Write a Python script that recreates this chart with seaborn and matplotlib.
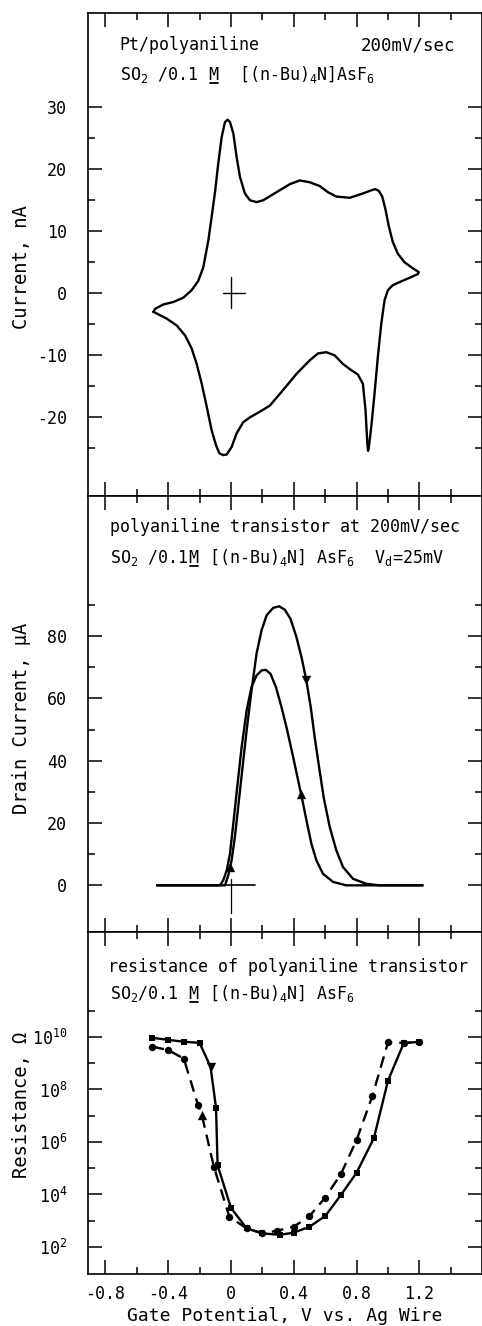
import numpy as np
import pandas as pd
import seaborn as sns
import matplotlib
matplotlib.use("Agg")
import matplotlib.pyplot as plt
from matplotlib.ticker import FixedLocator, NullFormatter, FixedFormatter

# --------------
# values

# top: cyclic voltammogram, Pt/polyaniline (V, nA), one closed loop
cv_potential = [-0.493, -0.483, -0.43, -0.366, -0.303, -0.25, -0.208, -0.176, -0.144, -0.123,
                -0.10, -0.081, -0.059, -0.038, -0.021, -0.006, 0.015, 0.036, 0.057, 0.089,
                0.121, 0.163, 0.205, 0.29, 0.375, 0.438, 0.502, 0.565, 0.618, 0.671,
                0.756, 0.84, 0.893, 0.919, 0.942, 0.963, 0.984, 1.005, 1.03, 1.062,
                1.105, 1.154, 1.196,
                1.19, 1.137, 1.073, 1.03, 0.999, 0.978, 0.957, 0.935, 0.914, 0.893,
                0.878, 0.873, 0.868, 0.857, 0.84, 0.808, 0.766, 0.713, 0.66, 0.607,
                0.554, 0.502, 0.417, 0.332, 0.248, 0.184, 0.121, 0.078, 0.036, 0.004,
                -0.027, -0.049, -0.074, -0.095, -0.123, -0.154, -0.186, -0.218, -0.25, -0.292,
                -0.345, -0.408, -0.462, -0.493]
cv_current = [-3.0, -2.5, -1.8, -1.4, -0.7, 0.5, 2.0, 4.2, 8.5, 12.3,
              16.6, 20.9, 25.2, 27.6, 28.0, 27.6, 25.8, 22.0, 18.8, 16.1,
              15.0, 14.7, 15.0, 16.3, 17.6, 18.2, 17.9, 17.3, 16.3, 15.6,
              15.4, 16.1, 16.6, 16.8, 16.5, 15.6, 13.5, 10.8, 8.3, 6.4,
              5.0, 4.1, 3.4,
              3.1, 2.5, 1.8, 1.3, 0.5, -1.1, -4.9, -10.3, -16.2, -21.6,
              -24.8, -25.4, -24.2, -18.9, -14.6, -13.1, -12.4, -11.4, -10.0, -9.5,
              -9.7, -10.8, -13.0, -15.6, -18.1, -19.1, -20.0, -20.8, -22.6, -24.8,
              -26.0, -26.1, -25.8, -24.5, -22.1, -18.3, -14.6, -11.4, -8.9, -6.8,
              -5.2, -4.1, -3.4, -3.0]
cross_h_v = [-0.05, 0.09]
cross_h_i = [0.0, 0.0]
cross_v_v = [0.0, 0.0]
cross_v_i = [-2.4, 2.6]

# middle: drain current (V, uA)
fwd_potential = [-0.47, -0.038, -0.017, 0.004, 0.025, 0.046, 0.074, 0.10, 0.131, 0.163,
                 0.195, 0.227, 0.269, 0.307, 0.343, 0.379, 0.417, 0.449, 0.48, 0.508,
                 0.533, 0.561, 0.59, 0.629, 0.671, 0.713, 0.777, 0.861, 0.946, 1.22]
fwd_current = [0.0, 0.0, 3.2, 8.0, 15.5, 25.1, 38.0, 49.8, 62.6, 74.4,
               81.9, 86.7, 89.1, 89.6, 88.5, 85.6, 79.7, 73.3, 65.8, 57.2,
               47.6, 38.0, 28.3, 18.7, 11.2, 5.9, 2.1, 0.5, 0.0, 0.0]
rev_potential = [1.22, 0.734, 0.65, 0.586, 0.544, 0.512, 0.485, 0.459, 0.432, 0.396,
                 0.358, 0.322, 0.286, 0.252, 0.222, 0.195, 0.163, 0.131, 0.10, 0.068,
                 0.04, 0.015, -0.006, -0.027, -0.049, -0.07, -0.47]
rev_current = [0.0, 0.0, 1.1, 3.7, 8.0, 13.4, 19.8, 26.3, 32.7, 41.2,
               49.8, 57.2, 63.7, 67.9, 69.2, 69.0, 67.4, 63.7, 56.2, 44.4,
               31.6, 19.8, 10.2, 4.8, 1.6, 0.0, 0.0]
zero_line_v = [-0.47, 0.15]
zero_line_i = [0.0, 0.0]
zero_tick_v = [0.0, 0.0]
zero_tick_i = [-9.0, 2.0]
mid_arrow_dn_v = [0.48]
mid_arrow_dn_i = [65.8]
mid_arrow_up_v = [0.449, -0.006]
mid_arrow_up_i = [29.4, 5.9]

# bottom: resistance (V, ohm)
solid_v = [-0.50, -0.40, -0.30, -0.20, -0.13, -0.095, -0.085, 0.0, 0.10, 0.20,
           0.31, 0.40, 0.50, 0.60, 0.70, 0.80, 0.91, 1.00, 1.10, 1.20]
solid_r = [9.3e9, 7.8e9, 6.6e9, 6.0e9, 7.4e8, 2.0e7, 1.3e5, 3.1e3, 5.1e2, 3.3e2,
           2.9e2, 3.5e2, 5.9e2, 1.5e3, 9.5e3, 6.8e4, 1.4e6, 2.2e8, 5.8e9, 6.6e9]
dash_v = [-0.50, -0.40, -0.30, -0.21, -0.186, -0.108, -0.01, 0.10, 0.20, 0.29,
          0.40, 0.50, 0.60, 0.70, 0.80, 0.90, 1.00, 1.10, 1.20]
dash_r = [4.3e9, 3.2e9, 1.5e9, 2.6e7, 1.1e7, 1.1e5, 1.4e3, 5.1e2, 3.3e2, 4.1e2,
          5.9e2, 1.5e3, 7.6e3, 6.0e4, 1.2e6, 5.6e7, 6.3e9, 6.0e9, 6.6e9]
res_arrow_dn_v = [-0.13]
res_arrow_dn_r = [7.4e8]
res_arrow_up_v = [-0.186]
res_arrow_up_r = [1.1e7]

x_major = [-0.8, -0.4, 0.0, 0.4, 0.8, 1.2]
x_minor = [-0.6, -0.2, 0.2, 0.6, 1.0, 1.4]
x_labels = ["-0.8", "-0.4", "0", "0.4", "0.8", "1.2"]

# --------------
sns.set_style("ticks")
plt.rcParams['font.family'] = ['DejaVu Sans Mono', 'DejaVu Sans']
plt.rcParams['mathtext.default'] = 'regular'
plt.rcParams['axes.unicode_minus'] = False
for k in ['text.color', 'axes.labelcolor', 'xtick.color', 'ytick.color', 'axes.edgecolor']:
    plt.rcParams[k] = 'black'
plt.rcParams['axes.linewidth'] = 1.2

fig = plt.figure(figsize=(4.82, 13.26), dpi=100)
L = 88 / 482
W = 393.5 / 482
ax1 = fig.add_axes([L, 0.6259, W, 0.3643])
ax2 = fig.add_axes([L, 0.2971, W, 0.3288])
ax3 = fig.add_axes([L, 0.0392, W, 0.2579])

lw = 1.7

# top panel
cv = pd.DataFrame({'V': cv_potential, 'I': cv_current})
sns.lineplot(data=cv, x='V', y='I', sort=False, estimator=None, color='black', lw=lw, ax=ax1)
ax1.plot(cross_h_v, cross_h_i, color='black', lw=1.0)
ax1.plot(cross_v_v, cross_v_i, color='black', lw=1.0)
ax1.set_ylim(-32.7, 45.2)
ax1.yaxis.set_major_locator(FixedLocator([-20, -10, 0, 10, 20, 30]))
ax1.yaxis.set_minor_locator(FixedLocator([-25, -15, -5, 5, 15, 25]))

# middle panel
fwd = pd.DataFrame({'V': fwd_potential, 'I': fwd_current})
rev = pd.DataFrame({'V': rev_potential, 'I': rev_current})
sns.lineplot(data=fwd, x='V', y='I', sort=False, estimator=None, color='black', lw=lw, ax=ax2)
sns.lineplot(data=rev, x='V', y='I', sort=False, estimator=None, color='black', lw=lw, ax=ax2)
ax2.plot(zero_line_v, zero_line_i, color='black', lw=1.2)
ax2.plot(zero_tick_v, zero_tick_i, color='black', lw=0.9)
sns.scatterplot(x=mid_arrow_dn_v, y=mid_arrow_dn_i, marker='v', s=45, color='black', linewidth=0, ax=ax2)
sns.scatterplot(x=mid_arrow_up_v, y=mid_arrow_up_i, marker='^', s=45, color='black', linewidth=0, ax=ax2)
ax2.set_ylim(-15, 125)
ax2.yaxis.set_major_locator(FixedLocator([0, 20, 40, 60, 80]))
ax2.yaxis.set_minor_locator(FixedLocator([10, 30, 50, 70, 90]))

# bottom panel
sol = pd.DataFrame({'V': solid_v, 'R': solid_r})
das = pd.DataFrame({'V': dash_v, 'R': dash_r})
sns.lineplot(data=sol, x='V', y='R', sort=False, estimator=None, color='black', lw=lw, ax=ax3)
sns.lineplot(data=das, x='V', y='R', sort=False, estimator=None, color='black', lw=lw,
             linestyle=(0, (5, 3)), ax=ax3)
sq = sol[~sol.V.isin(res_arrow_dn_v)]
ci = das[~das.V.isin(res_arrow_up_v)]
sns.scatterplot(data=sq, x='V', y='R', marker='s', s=24, color='black', linewidth=0, ax=ax3)
sns.scatterplot(data=ci, x='V', y='R', marker='o', s=28, color='black', linewidth=0, ax=ax3)
sns.scatterplot(x=res_arrow_dn_v, y=res_arrow_dn_r, marker='v', s=45, color='black', linewidth=0, ax=ax3)
sns.scatterplot(x=res_arrow_up_v, y=res_arrow_up_r, marker='^', s=45, color='black', linewidth=0, ax=ax3)
ax3.set_yscale('log')
ax3.set_ylim(9.3, 1e14)
ax3.yaxis.set_major_locator(FixedLocator([1e2, 1e4, 1e6, 1e8, 1e10]))
ax3.yaxis.set_minor_locator(FixedLocator([1e3, 1e5, 1e7, 1e9, 1e11]))
ax3.yaxis.set_minor_formatter(NullFormatter())

# shared x styling
for ax in [ax1, ax2, ax3]:
    ax.set_xlim(-0.91, 1.595)
    ax.xaxis.set_major_locator(FixedLocator(x_major))
    ax.xaxis.set_minor_locator(FixedLocator(x_minor))
    ax.tick_params(which='both', direction='in', top=True, right=True, width=1.1)
    ax.tick_params(which='major', length=10)
    ax.tick_params(which='minor', length=5)
    ax.tick_params(axis='y', pad=15, labelsize=12)
    ax.tick_params(axis='x', labelbottom=False)
    ax.set_xlabel('')
    for s in ax.spines.values():
        s.set_visible(True)
ax3.tick_params(axis='x', labelbottom=True, pad=8, labelsize=12)
ax3.xaxis.set_major_formatter(FixedFormatter(x_labels))

ax1.set_ylabel('Current, nA', fontsize=13.5)
ax2.set_ylabel('Drain Current, \u00b5A', fontsize=13.5)
ax3.set_ylabel('Resistance, \u03a9', fontsize=13.5)
ax1.yaxis.set_label_coords(-0.145, 0.474)
ax2.yaxis.set_label_coords(-0.145, 0.49)
ax3.yaxis.set_label_coords(-0.145, 0.494)
ax3.set_xlabel('Gate Potential, V vs. Ag Wire', fontsize=13)
ax3.xaxis.set_label_coords(0.5, -0.095)


def molar_line(ax, x, y, before, gap1, after, gap2, size=12):
    # the "M" (molar) is underlined in the original, so it is set as its own piece
    rend = fig.canvas.get_renderer()
    to_axes = ax.transAxes.inverted()
    cw = 0.602 * size * fig.dpi / 72.0
    t1 = ax.text(x, y, before, transform=ax.transAxes, va='baseline', fontsize=size)
    yd = ax.transAxes.transform((x, y))[1]
    b1 = t1.get_window_extent(rend)
    xm, ym = to_axes.transform((b1.x1 + gap1 * cw, yd))
    tm = ax.text(xm, ym, 'M', transform=ax.transAxes, va='baseline', fontsize=size)
    bm = tm.get_window_extent(rend)
    u0 = to_axes.transform((bm.x0 + 1, yd - 3))
    u1 = to_axes.transform((bm.x1 - 1, yd - 3))
    ax.plot([u0[0], u1[0]], [u0[1], u1[1]], transform=ax.transAxes, color='black', lw=1.3)
    xa, ya = to_axes.transform((bm.x1 + gap2 * cw, yd))
    ax.text(xa, ya, after, transform=ax.transAxes, va='baseline', fontsize=size)


fs = 12
ax1.text(0.081, 0.923, 'Pt/polyaniline', transform=ax1.transAxes, va='baseline', fontsize=fs)
ax1.text(0.933, 0.923, '200mV/sec', transform=ax1.transAxes, va='baseline', ha='right',
         fontsize=12.5)
molar_line(ax1, 0.081, 0.861, 'SO$_2$ /0.1', 1, '[(n-Bu)$_4$N]AsF$_6$', 2, fs)

ax2.text(0.056, 0.917, 'polyaniline transistor at 200mV/sec', transform=ax2.transAxes,
         va='baseline', fontsize=fs)
molar_line(ax2, 0.056, 0.846, 'SO$_2$ /0.1', 0, '[(n-Bu)$_4$N] AsF$_6$  V$_d$=25mV', 1, fs)

ax3.text(0.051, 0.883, 'resistance of polyaniline transistor', transform=ax3.transAxes,
         va='baseline', fontsize=fs)
molar_line(ax3, 0.056, 0.804, 'SO$_2$/0.1', 1, '[(n-Bu)$_4$N] AsF$_6$', 1, fs)

fig.savefig('out.png', dpi=100)
